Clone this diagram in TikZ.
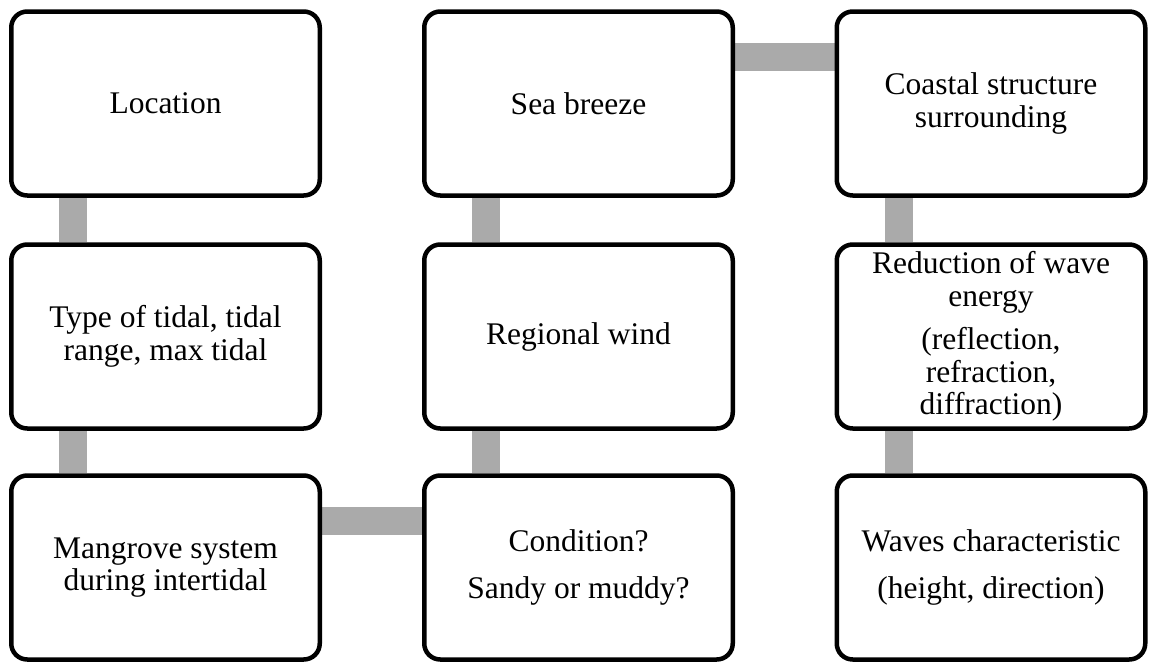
\documentclass[tikz,border=0pt]{standalone}
\usepackage{fontspec}
\setmainfont{Liberation Serif}
\usepackage{xcolor}
\usepackage{tikz}
\usetikzlibrary{positioning}
\usetikzlibrary{backgrounds}

\definecolor{linkgray}{RGB}{170,170,170}

\tikzset{
  box/.style={draw, line width=4.5pt, fill=white, rounded corners=16pt,
    minimum width=308.5pt, minimum height=184pt, inner sep=0pt,
    font=\fontsize{31.5}{32.5}\selectfont},
  link/.style={draw=linkgray, line width=28pt}
}

\begin{document}
\begin{tikzpicture}[every text node part/.style={align=center}]
\useasboundingbox (0,0) rectangle (1149pt,-662pt);

\node (location) [box] at (165.5pt,-103.5pt) {Location};
\node (type of tidal) [box, node distance=233pt, below of=location] {Type of tidal, tidal\\range, max tidal};
\node (mangrove system) [box, node distance=231pt, below of=type of tidal] {Mangrove system\\during intertidal};

\node (sea breeze) [box, node distance=413pt, right of=location] {Sea breeze};
\node (regional wind) [box, node distance=233pt, below of=sea breeze] {Regional wind};
\node (condition) [box, node distance=231pt, below of=regional wind] {Condition?\\[14pt]Sandy or muddy?};

\node (coastal structure) [box, node distance=412.5pt, right of=sea breeze] {Coastal structure\\surrounding};
\node (wave energy) [box, node distance=233pt, below of=coastal structure] {Reduction of wave\\energy\\[11pt](reflection,\\refraction,\\diffraction)};
\node (waves characteristic) [box, node distance=231pt, below of=wave energy] {Waves characteristic\\[14pt](height, direction)};

\begin{scope}[on background layer]
\draw [link] ([xshift=64pt]location.south west) -- ([xshift=64pt]type of tidal.north west);
\draw [link] ([xshift=64pt]type of tidal.south west) -- ([xshift=64pt]mangrove system.north west);
\draw [link] ([yshift=-48pt]mangrove system.north east) -- ([yshift=-48pt]condition.north west);
\draw [link] ([xshift=64pt]condition.north west) -- ([xshift=64pt]regional wind.south west);
\draw [link] ([xshift=64pt]regional wind.north west) -- ([xshift=64pt]sea breeze.south west);
\draw [link] ([yshift=-48pt]sea breeze.north east) -- ([yshift=-48pt]coastal structure.north west);
\draw [link] ([xshift=64pt]coastal structure.south west) -- ([xshift=64pt]wave energy.north west);
\draw [link] ([xshift=64pt]wave energy.south west) -- ([xshift=64pt]waves characteristic.north west);
\end{scope}

\end{tikzpicture}
\end{document}
